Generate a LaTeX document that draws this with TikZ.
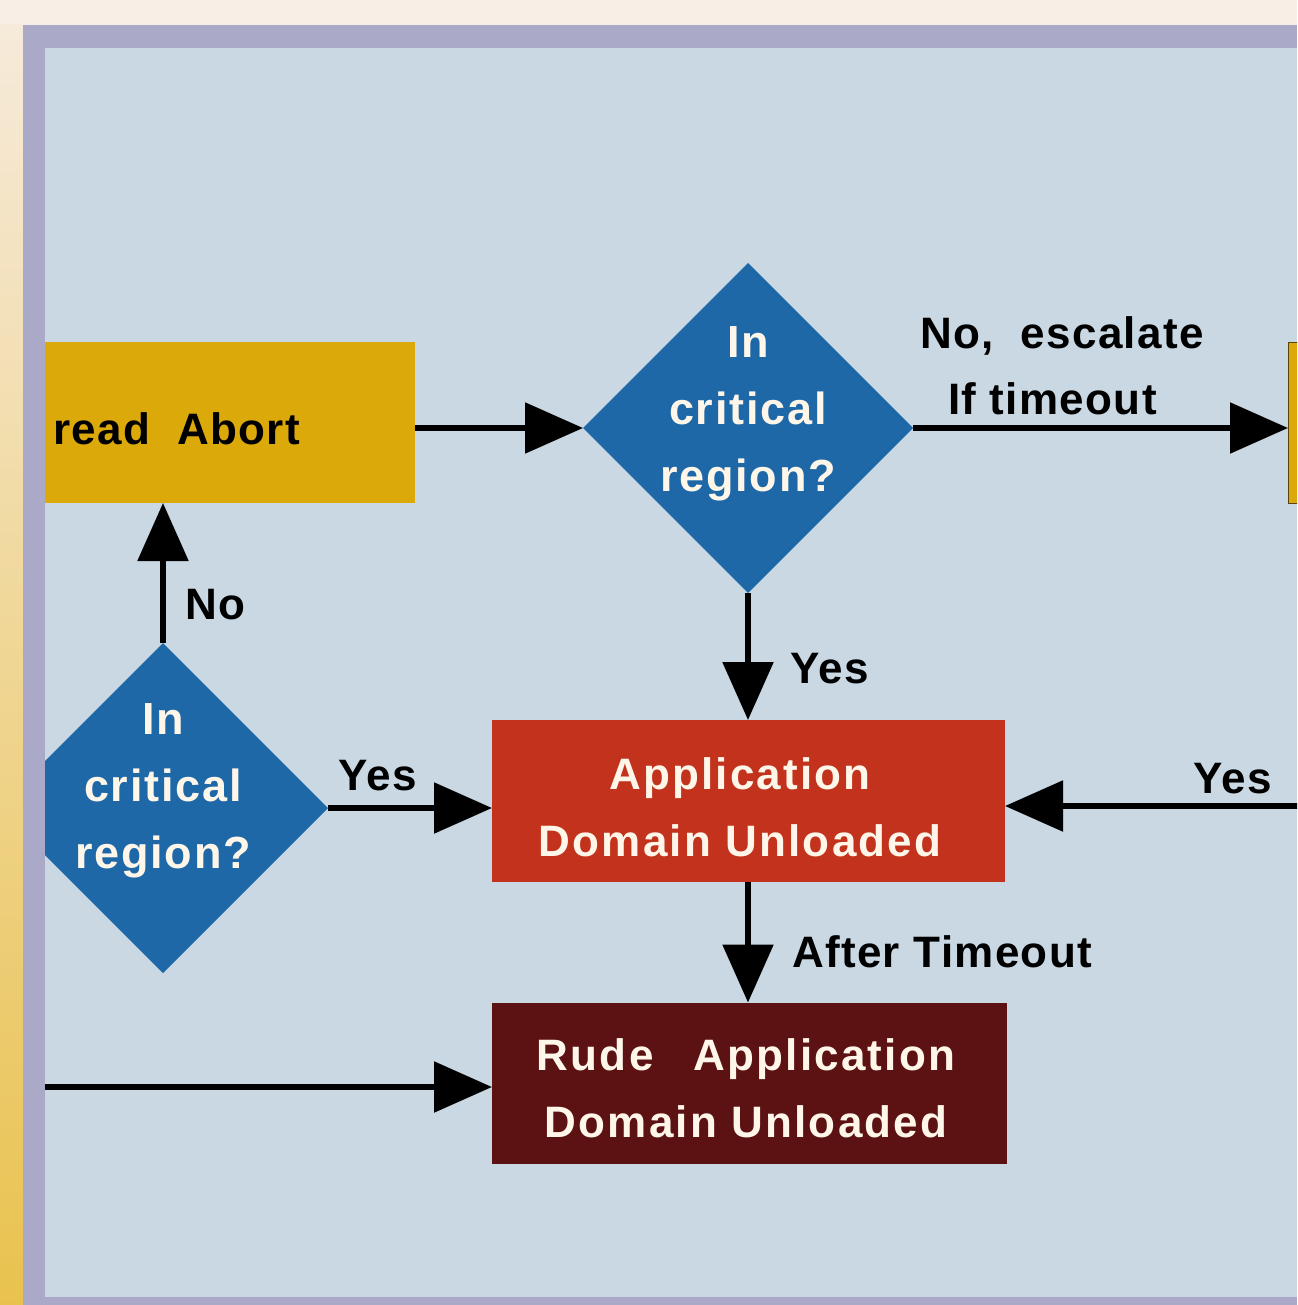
\documentclass[tikz,border=0pt]{standalone}
\usepackage{fontspec}
\setmainfont{Liberation Sans}
\newfontfamily\boxfont{Liberation Sans}[LetterSpace=5]
\newfontfamily\labfont{Liberation Sans}[LetterSpace=3]
\newfontfamily\diafont{Liberation Sans}[LetterSpace=4]
\usetikzlibrary{shapes.geometric,arrows.meta}
\definecolor{panelbg}{HTML}{C9D8E2}
\definecolor{framecol}{HTML}{ABA9C8}
\definecolor{topstrip}{HTML}{F8EEE6}
\definecolor{leftA}{HTML}{F6EADA}
\definecolor{leftB}{HTML}{E9C24E}
\definecolor{abortyel}{HTML}{DBA90A}
\definecolor{dblue}{HTML}{1F68A8}
\definecolor{appred}{HTML}{C2321C}
\definecolor{rudered}{HTML}{5C1212}
\definecolor{cream}{HTML}{FFF6EA}
\begin{document}
\begin{tikzpicture}[x=1pt,y=-1pt,
  flow/.style={line width=5.5pt,-{Triangle[length=58pt,width=50pt]}},
  procbox/.style={inner sep=0pt,outer sep=0pt},
  boxtext/.style={font=\boxfont\bfseries\fontsize{44}{67}\selectfont,text=cream,align=center,inner sep=0pt},
  decision/.style={diamond,fill=dblue,minimum width=330pt,minimum height=330pt,inner sep=0pt,outer sep=0pt},
  diatext/.style={font=\diafont\bfseries\fontsize{45}{67}\selectfont,text=cream,align=center,inner sep=0pt},
  lab/.style={font=\labfont\bfseries\fontsize{44}{67}\selectfont,text=black,inner sep=0pt}
]
\useasboundingbox (0,0) rectangle (1297,1305);
% surroundings
\fill[topstrip] (0,0) rectangle (1297,1305);
\shade[top color=leftA,bottom color=leftB] (0,25) rectangle (23,1305);
\fill[framecol] (23,25) rectangle (1297,1305);
\fill[panelbg] (45,48) rectangle (1297,1297);
\begin{scope}
\clip (45,48) rectangle (1297,1297);
% nodes
\node[procbox,fill=abortyel,minimum width=370pt,minimum height=161pt] (abort) at (230,422.5) {};
\node[lab,anchor=base west] (abortt) at (53,444) {read\ \ Abort};
\node[decision] (d1) at (748,428) {};
\node[diatext] (d1t) at (748,414) {In\\critical\\region?};
\node[procbox,fill=abortyel,draw=black!60!abortyel,line width=1pt,minimum width=40pt,minimum height=161pt] (esc) at (1308,422.5) {};
\node[decision] (d2) at (163,808) {};
\node[diatext] (d2t) at (163,791) {In\\critical\\region?};
\node[procbox,fill=appred,minimum width=513pt,minimum height=162pt] (app) at (748.5,801) {};
\node[boxtext] (appt) at (740,807) {Application\\Domain Unloaded};
\node[procbox,fill=rudered,minimum width=515pt,minimum height=161pt] (rude) at (749.5,1083) {};
\node[boxtext] (rudet) at (746,1088) {Rude\hspace{40pt}Application\\Domain Unloaded};
\coordinate (rin) at (1310,806);
\coordinate (lin) at (45,1087);
% connectors
\draw[flow] (abort.east |- d1.west) -- (d1.west);
\draw[flow] (d1.east) -- (d1.east -| esc.west);
\draw[flow] (d1.south) -- (d1.south |- app.north);
\draw[flow] (d2.east) -- (d2.east -| app.west);
\draw[flow] (d2.north) -- (d2.north |- abort.south);
\draw[flow] (app.south -| d1.south) -- (rude.north -| d1.south);
\draw[flow] (rin) -- (rin -| app.east);
\draw[flow] (lin) -- (lin -| rude.west);
% labels
\node[lab,anchor=base west] (l1) at (920,348) {No,\ \ escalate};
\node[lab,anchor=base west] (l2) at (948,414) {If timeout};
\node[lab,anchor=base west] (l3) at (790,683) {Yes};
\node[lab,anchor=base west] (l4) at (338,790) {Yes};
\node[lab,anchor=base west] (l5) at (185,619) {No};
\node[lab,anchor=base west] (l6) at (792,967) {After Timeout};
\node[lab,anchor=base west] (l7) at (1193,793) {Yes};
\end{scope}
\end{tikzpicture}
\end{document}
